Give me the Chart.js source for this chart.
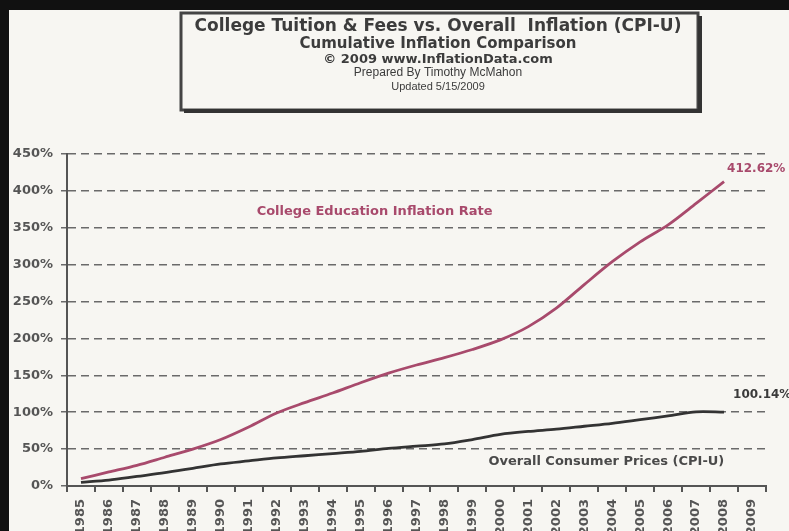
<!DOCTYPE html>
<html>
<head>
<meta charset="utf-8">
<script src="https://cdn.jsdelivr.net/npm/chart.js@4"></script>
<style>
  html, body { margin: 0; padding: 0; background: #f7f6f2; }
  #wrap { width: 789px; height: 531px; }
</style>
</head>
<body>
<div id="wrap"><canvas id="myChart" width="789" height="531"></canvas></div>
<script>
const years = ['1985', '1986', '1987', '1988', '1989', '1990', '1991', '1992', '1993', '1994', '1995', '1996',
  '1997', '1998', '1999', '2000', '2001', '2002', '2003', '2004', '2005', '2006', '2007', '2008', '2009']
const college = [10, 19, 28, 39, 50, 63, 80, 99, 113, 126, 140, 153, 164, 174, 185, 198, 216, 241, 273, 304, 331, 354, 383, 412.62, null]
const cpi = [5, 8, 13, 18, 24, 30, 34, 38, 41, 44, 47, 51, 54, 57, 63, 70, 74, 77, 81, 85, 90, 95, 100.5, 100.14, null]
const titleLines = [
  ['College Tuition & Fees vs. Overall  Inflation (CPI-U)', 'bold 17px "DejaVu Sans"', 27],
  ['Cumulative Inflation Comparison', 'bold 15px "DejaVu Sans"', 44],
  ['© 2009 www.InflationData.com', 'bold 13px "DejaVu Sans"', 60],
  ['Prepared By Timothy McMahon', '12px "Liberation Sans"', 73],
  ['Updated 5/15/2009', '11px "Liberation Sans"', 87]
]

const redColor = '#a84a6c'
const textGray = '#4a4a4a'

const paper = {
  id: 'paper',
  beforeDraw (chart) {
    const c = chart.ctx
    c.save()
    c.fillStyle = '#f7f6f2'
    c.fillRect(0, 0, chart.width, chart.height)
    c.fillStyle = '#111'
    c.fillRect(0, 0, chart.width, 10)
    c.fillRect(0, 0, 9, chart.height)
    // title box, heavier shadow on bottom and right
    c.strokeStyle = '#444'
    c.lineWidth = 3
    c.strokeRect(181, 13, 517, 97)
    c.fillStyle = '#333'
    c.fillRect(184, 109, 517, 4)
    c.fillRect(698, 16, 4, 97)
    c.fillStyle = '#3c3c3c'
    c.textAlign = 'center'
    c.textBaseline = 'middle'
    titleLines.forEach(([t, f, y]) => {
      c.font = f
      c.fillText(t, 438, y)
    })
    c.restore()
  },
  afterDatasetsDraw (chart) {
    const c = chart.ctx
    const x = chart.scales.x
    const y = chart.scales.y
    c.save()
    c.textBaseline = 'middle'
    c.textAlign = 'left'
    c.font = 'bold 12px "DejaVu Sans"'
    c.fillStyle = redColor
    c.fillText('412.62%', x.getPixelForValue(23) + 3, y.getPixelForValue(college[23]) - 13)
    c.fillStyle = '#3a3a3a'
    c.fillText('100.14%', x.getPixelForValue(23) + 9, y.getPixelForValue(cpi[23]) - 17)
    c.font = 'bold 13px "DejaVu Sans"'
    c.textAlign = 'center'
    c.fillStyle = redColor
    c.fillText('College Education Inflation Rate', (x.getPixelForValue(10) + x.getPixelForValue(11)) / 2, y.getPixelForValue(372))
    c.textAlign = 'left'
    c.fillStyle = textGray
    c.fillText('Overall Consumer Prices (CPI-U)', (x.getPixelForValue(14) + x.getPixelForValue(15)) / 2 + 2, y.getPixelForValue(33))
    c.restore()
  }
}

const ctx = document.getElementById('myChart').getContext('2d')
const myChart = new Chart(ctx, {
  type: 'line',
  data: {
    labels: years,
    datasets: [{
      data: college,
      borderColor: redColor,
      borderWidth: 2.8,
      tension: 0.3,
      pointRadius: 0,
      fill: false
    }, {
      data: cpi,
      borderColor: '#333',
      borderWidth: 2.8,
      tension: 0.3,
      pointRadius: 0,
      fill: false
    }]
  },
  options: {
    responsive: false,
    animation: false,
    layout: { padding: { left: 10, top: 154, right: 23, bottom: 0 } },
    scales: {
      x: {
        offset: true,
        grid: { offset: true, drawOnChartArea: false, drawTicks: true, tickLength: 6, color: '#555', lineWidth: 2 },
        border: { color: '#555', width: 2 },
        ticks: {
          maxRotation: 90,
          minRotation: 90,
          autoSkip: false,
          padding: 7,
          color: '#555',
          font: { family: 'DejaVu Sans', size: 13, weight: 'bold' }
        },
        afterFit (scale) { scale.height = 45 }
      },
      y: {
        min: 0,
        max: 450,
        ticks: {
          stepSize: 50,
          padding: 8,
          color: '#555',
          font: { family: 'DejaVu Sans', size: 13, weight: 'bold' },
          callback: v => v + '%'
        },
        grid: { color: '#6a6a6a', lineWidth: 1.5, tickLength: 6 },
        border: { color: '#555', width: 2, dash: [8, 5] },
        afterFit (scale) { scale.width = 57 }
      }
    },
    plugins: {
      legend: { display: false },
      tooltip: { enabled: false }
    }
  },
  plugins: [paper]
})
</script>
</body>
</html>
